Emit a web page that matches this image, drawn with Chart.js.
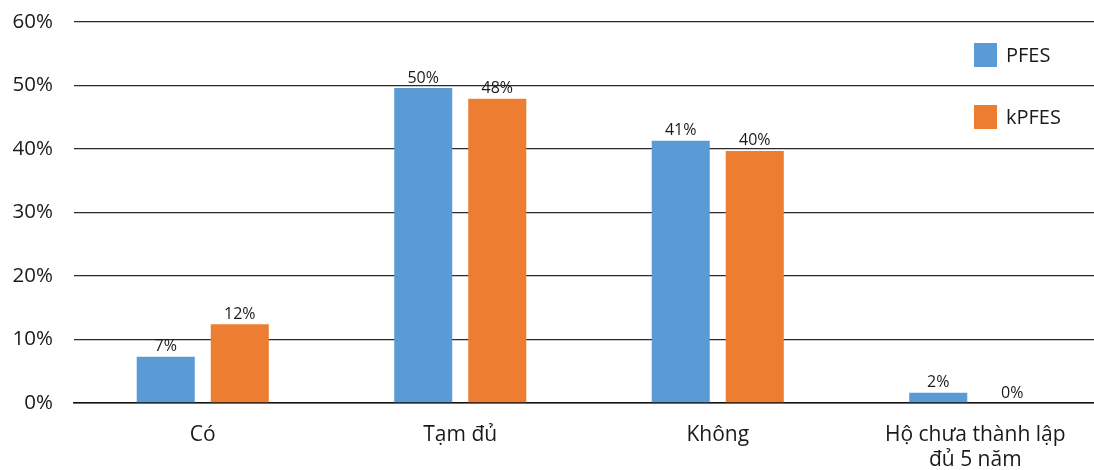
<!DOCTYPE html>
<html>
<head>
<meta charset="utf-8">
<script src="https://cdn.jsdelivr.net/npm/chart.js@4"></script>
<style>
  html, body { margin: 0; padding: 0; background: #fff; overflow: hidden; }
  #wrap { position: relative; width: 1094px; height: 470px; overflow: hidden; }
  .legend { position: absolute; left: 974px; font-family: "Open Sans", sans-serif; font-size: 20px; color: #1a1a1a; display: flex; align-items: center; }
  .legend span.box { display: inline-block; width: 23px; height: 24px; margin-right: 9px; }
</style>
</head>
<body>
<div id="wrap">
  <!-- the category axis runs a little past the right edge of the picture, so the canvas is cropped -->
  <canvas id="chart" width="1104" height="470"></canvas>
  <div class="legend" style="top:41px"><span class="box" style="background:#5B9BD5"></span>PFES</div>
  <div class="legend" style="top:103px"><span class="box" style="background:#ED7D31"></span>kPFES</div>
</div>
<script>
// categories and values (percent)
const categories = ['Có', 'Tạm đủ', 'Không', ['Hộ chưa thành lập', 'đủ 5 năm']];
const pfesValues = [7.3, 49.6, 41.3, 1.6];
const kpfesValues = [12.4, 47.9, 39.7, 0];
const pfesLabels = ['7%', '50%', '41%', '2%'];
const kpfesLabels = ['12%', '48%', '40%', '0%'];
const yTicks = [0, 10, 20, 30, 40, 50, 60];

// draw the value labels above each bar
const barLabels = {
  id: 'barLabels',
  afterDatasetsDraw(chart) {
    const ctx = chart.ctx;
    ctx.save();
    ctx.font = '16px "Open Sans", sans-serif';
    ctx.fillStyle = '#1a1a1a';
    ctx.textAlign = 'center';
    ctx.textBaseline = 'bottom';
    chart.data.datasets.forEach((ds, i) => {
      const meta = chart.getDatasetMeta(i);
      meta.data.forEach((bar, j) => {
        ctx.fillText(ds.valueLabels[j], bar.x, bar.y - 2);
      });
    });
    ctx.restore();
  }
};

new Chart(document.getElementById('chart'), {
  type: 'bar',
  data: {
    labels: categories,
    datasets: [
      { label: 'PFES', data: pfesValues, valueLabels: pfesLabels, backgroundColor: '#5B9BD5' },
      { label: 'kPFES', data: kpfesValues, valueLabels: kpfesLabels, backgroundColor: '#ED7D31' }
    ]
  },
  options: {
    responsive: false,
    animation: false,
    categoryPercentage: 0.575,
    barPercentage: 0.784,
    layout: { padding: { top: 22, right: 0, left: 0, bottom: 0 } },
    plugins: {
      legend: { display: false },
      tooltip: { enabled: false }
    },
    scales: {
      x: {
        grid: { display: false },
        border: { display: true, color: '#111', width: 1.5 },
        ticks: {
          color: '#1a1a1a',
          font: { family: '"Open Sans", sans-serif', size: 21, lineHeight: 1.2 },
          padding: 11,
          maxRotation: 0,
          autoSkip: false
        },
        afterFit(scale) { scale.height = 67; scale.paddingLeft = 0; scale.paddingRight = 0; }
      },
      y: {
        min: 0,
        max: 60,
        afterBuildTicks(scale) { scale.ticks = yTicks.map(v => ({ value: v })); },
        grid: { color: '#2a2a2a', lineWidth: 1.3, drawTicks: false },
        border: { display: false },
        ticks: {
          color: '#1a1a1a',
          font: { family: '"Open Sans", sans-serif', size: 20.5 },
          padding: 21,
          callback: v => v + '%'
        },
        afterFit(scale) { scale.width = 74; scale.paddingTop = 0; scale.paddingBottom = 0; }
      }
    }
  },
  plugins: [barLabels]
});
</script>
</body>
</html>
